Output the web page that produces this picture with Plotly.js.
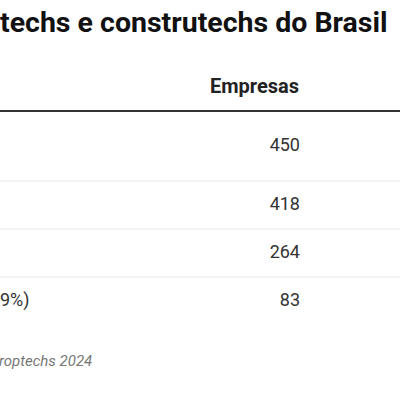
<!DOCTYPE html>
<html>
<head>
<meta charset="utf-8">
<script src="https://cdn.plot.ly/plotly-3.0.1.min.js"></script>
<style>
  html, body { margin: 0; padding: 0; background: #fff; }
  #chart { width: 400px; height: 400px; }
</style>
</head>
<body>
<div id="chart"></div>
<script>
// ---- data ----
const titleText = "techs e construtechs do Brasil";
const columnHeader = "Empresas";
const rowLabels = ["", "", "", "9%)"];          // visible fragments of the row labels
const companies = [450, 418, 264, 83];
const sourceText = "roptechs 2024";

// ---- layout constants (pixel scale) ----
const W = 400, H = 400;
const headerRuleY = 111;
const rowHeights = [70, 48, 48, 48];
const valueRightX = 300;
const labelLeftX = 0;

const rowTops = [];
const rowCenters = [];
let acc = headerRuleY;
rowHeights.forEach(h => { rowTops.push(acc); rowCenters.push(acc + h / 2); acc += h; });

const font = "Roboto, 'Noto Sans', sans-serif";

const traces = [
  {
    type: "scatter", mode: "text",
    x: companies.map(() => valueRightX),
    y: rowCenters,
    text: companies.map(v => String(v)),
    textposition: "middle left",
    textfont: { family: font, size: 18, color: "#333333" },
    hoverinfo: "skip", showlegend: false, cliponaxis: true
  },
  {
    type: "scatter", mode: "text",
    x: rowLabels.map(() => labelLeftX),
    y: rowCenters,
    text: rowLabels,
    textposition: "middle right",
    textfont: { family: font, size: 18, color: "#333333" },
    hoverinfo: "skip", showlegend: false, cliponaxis: true
  }
];

const shapes = [
  { type: "line", xref: "x", yref: "y", x0: 0, x1: W, y0: headerRuleY, y1: headerRuleY,
    line: { color: "#333333", width: 2 } }
];
rowTops.slice(1).forEach(t => shapes.push({
  type: "line", xref: "x", yref: "y", x0: 0, x1: W, y0: t, y1: t,
  line: { color: "#e6e6e6", width: 1 }
}));

const layout = {
  width: W, height: H,
  margin: { l: 0, r: 0, t: 0, b: 0, pad: 0 },
  paper_bgcolor: "#ffffff", plot_bgcolor: "#ffffff",
  title: {
    text: "<b>" + titleText + "</b>",
    font: { family: font, size: 28.5, color: "#111111" },
    x: 0, xanchor: "left", xref: "paper",
    y: 1 - 22 / H, yanchor: "middle", yref: "container",
    pad: { l: 0, r: 0, t: 0, b: 0 }
  },
  xaxis: { range: [0, W], visible: false, fixedrange: true },
  yaxis: { range: [H, 0], visible: false, fixedrange: true },
  shapes: shapes,
  annotations: [
    { xref: "x", yref: "y", x: valueRightX, y: 86, text: "<b>" + columnHeader + "</b>",
      showarrow: false, xanchor: "right", yanchor: "middle", xshift: 1,
      font: { family: font, size: 20, color: "#222222" } },
    { xref: "x", yref: "y", x: 0, y: 361, text: "<i>" + sourceText + "</i>",
      showarrow: false, xanchor: "left", yanchor: "middle", xshift: -3,
      font: { family: font, size: 15, color: "#777777" } }
  ]
};

Plotly.newPlot("chart", traces, layout, { displayModeBar: false, staticPlot: true });
</script>
</body>
</html>
